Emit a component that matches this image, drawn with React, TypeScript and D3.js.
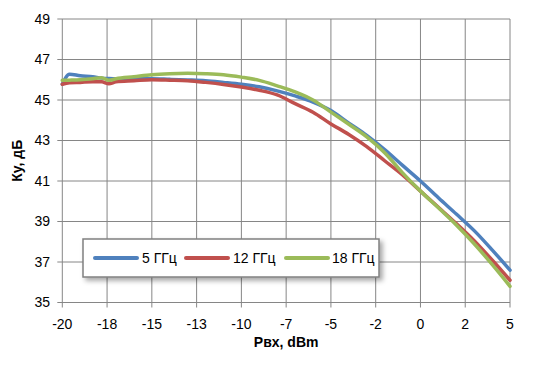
import React from "react";
import * as d3 from "d3";

const xValues = [-20, -19.6, -19, -18.3, -17.8, -17.4, -17, -16, -15, -14, -13, -12, -11, -10, -9, -8, -7, -6, -5, -4, -3, -2, -1, 0, 1, 2, 3, 4, 5];
const blue5 = [45.78, 46.27, 46.2, 46.15, 46.08, 46.06, 46.05, 46.05, 46.05, 46.02, 45.99, 45.95, 45.87, 45.78, 45.65, 45.45, 45.2, 44.9, 44.48, 43.86, 43.25, 42.55, 41.77, 41.0, 40.17, 39.37, 38.55, 37.6, 36.6];
const red12 = [45.78, 45.85, 45.87, 45.9, 45.9, 45.8, 45.9, 45.95, 46.0, 45.98, 45.95, 45.87, 45.77, 45.64, 45.48, 45.25, 44.82, 44.4, 43.82, 43.3, 42.7, 42.0, 41.3, 40.5, 39.7, 38.9, 38.05, 37.1, 36.1];
const green18 = [45.97, 45.98, 46.0, 46.05, 46.1, 45.97, 46.05, 46.15, 46.25, 46.3, 46.32, 46.3, 46.25, 46.13, 45.97, 45.7, 45.4, 45.0, 44.4, 43.8, 43.18, 42.4, 41.4, 40.5, 39.68, 38.83, 37.9, 36.88, 35.8];

const seriesNames = ["5 ГГц", "12 ГГц", "18 ГГц"];
const seriesColors = ["#4F81BD", "#C0504D", "#9BBB59"];
const xTickValues = [-20, -17.5, -15, -12.5, -10, -7.5, -5, -2.5, 0, 2.5, 5];
const xTickLabels = ["-20", "-18", "-15", "-13", "-10", "-7", "-5", "-2", "0", "2", "5"];
const yTickValues = [35, 37, 39, 41, 43, 45, 47, 49];

export default function App() {
  const W = 547, H = 370;
  const left = 62.3, right = 510, top = 19, bottom = 302.5;
  const x = d3.scaleLinear().domain([-20, 5]).range([left, right]);
  const y = d3.scaleLinear().domain([35, 49]).range([bottom, top]);
  const allSeries = [blue5, red12, green18];
  const line = d3
    .line<number>()
    .x((_, i) => x(xValues[i]))
    .y((d) => y(d))
    .curve(d3.curveMonotoneX);
  const font = "'Liberation Sans', Arial, sans-serif";
  const grid = "#868686";

  const legendX = 83, legendY = 239, legendW = 296, legendH = 38;
  const legendItems = [
    { x0: 95, tx: 142 },
    { x0: 186, tx: 233 },
    { x0: 286, tx: 332 },
  ];

  return (
    <svg width={W} height={H} style={{ position: "absolute", left: 0, top: 0, background: "#fff" }}>
      <defs>
        <filter id="shadow" x="-10%" y="-30%" width="120%" height="180%">
          <feDropShadow dx="3" dy="3" stdDeviation="2.5" floodColor="#000" floodOpacity="0.35" />
        </filter>
      </defs>
      <rect x={0} y={0} width={W} height={H} fill="#fff" />
      {yTickValues.map((v) => (
        <line key={"gy" + v} x1={left - 5} x2={right} y1={y(v)} y2={y(v)} stroke={grid} strokeWidth={1} />
      ))}
      {xTickValues.map((v) => (
        <line key={"gx" + v} x1={x(v)} x2={x(v)} y1={top} y2={bottom + 5} stroke={grid} strokeWidth={1} />
      ))}
      {yTickValues.map((v) => (
        <text key={"ly" + v} x={50} y={y(v)} dy="0.35em" textAnchor="end" fontFamily={font} fontSize={14} fill="#000">
          {v}
        </text>
      ))}
      {xTickValues.map((v, i) => (
        <text key={"lx" + v} x={x(v)} y={324} dy="0.35em" textAnchor="middle" fontFamily={font} fontSize={14} fill="#000">
          {xTickLabels[i]}
        </text>
      ))}
      <text
        transform={`translate(17,${(top + bottom) / 2}) rotate(-90)`}
        textAnchor="middle"
        dy="0.35em"
        fontFamily={font}
        fontSize={14}
        fontWeight="bold"
      >
        Ку, дБ
      </text>
      <text x={(left + right) / 2} y={342} dy="0.35em" textAnchor="middle" fontFamily={font} fontSize={14} fontWeight="bold">
        Рвх, dBm
      </text>
      {allSeries.map((s, i) => (
        <path key={"s" + i} d={line(s) || ""} fill="none" stroke={seriesColors[i]} strokeWidth={3.5} strokeLinejoin="round" strokeLinecap="round" />
      ))}
      <rect x={legendX} y={legendY} width={legendW} height={legendH} fill="#fff" stroke="#808080" strokeWidth={1.5} filter="url(#shadow)" />
      {legendItems.map((it, i) => (
        <g key={"lg" + i}>
          <line x1={it.x0} x2={it.x0 + 42} y1={legendY + legendH / 2} y2={legendY + legendH / 2} stroke={seriesColors[i]} strokeWidth={4} strokeLinecap="round" />
          <text x={it.tx} y={legendY + legendH / 2} dy="0.35em" fontFamily={font} fontSize={14} fill="#000">
            {seriesNames[i]}
          </text>
        </g>
      ))}
    </svg>
  );
}
